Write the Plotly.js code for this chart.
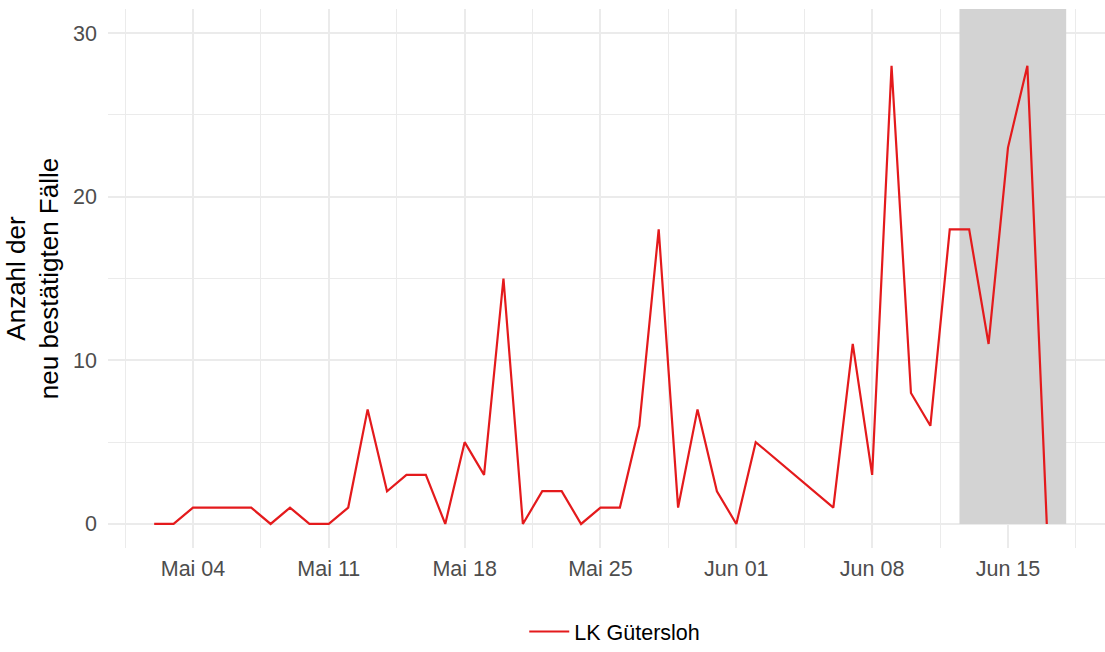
<!DOCTYPE html>
<html>
<head>
<meta charset="utf-8">
<script src="https://cdn.plot.ly/plotly-3.0.1.min.js"></script>
<style>html,body{margin:0;padding:0;background:#fff;}#chart{width:1105px;height:652px;}</style>
</head>
<body>
<div id="chart"></div>
<script>
// Data
const dates = [
  '2020-05-02','2020-05-03','2020-05-04','2020-05-05','2020-05-06','2020-05-07','2020-05-08',
  '2020-05-09','2020-05-10','2020-05-11','2020-05-12','2020-05-13','2020-05-14','2020-05-15',
  '2020-05-16','2020-05-17','2020-05-18','2020-05-19','2020-05-20','2020-05-21','2020-05-22',
  '2020-05-23','2020-05-24','2020-05-25','2020-05-26','2020-05-27','2020-05-28','2020-05-29',
  '2020-05-30','2020-05-31','2020-06-01','2020-06-02','2020-06-06','2020-06-07','2020-06-08',
  '2020-06-09','2020-06-10','2020-06-11','2020-06-12','2020-06-13','2020-06-14','2020-06-15',
  '2020-06-16','2020-06-17'
];
const cases = [
  0,0,1,1,1,1,0,
  1,0,0,1,7,2,3,
  3,0,5,3,15,0,2,
  2,0,1,1,6,18,1,
  7,2,0,5,1,11,3,
  28,8,6,18,18,11,23,
  28,0
];
const seriesName = 'LK Gütersloh';
const tickDates = ['2020-05-04','2020-05-11','2020-05-18','2020-05-25','2020-06-01','2020-06-08','2020-06-15'];
const tickLabels = ['Mai 04','Mai 11','Mai 18','Mai 25','Jun 01','Jun 08','Jun 15'];
const highlightStart = '2020-06-12 12:00';
const highlightEnd = '2020-06-18 00:00';
const yTitle = 'Anzahl der<br>neu bestätigten Fälle';

const FONT = 'Liberation Sans, Arial, sans-serif';

const trace = {
  x: dates, y: cases, type: 'scatter', mode: 'lines', name: seriesName,
  line: {color: '#E41A1C', width: 2.2}
};

const layout = {
  width: 1105, height: 652,
  margin: {l: 108, r: 0, t: 9, b: 104, autoexpand: false},
  paper_bgcolor: '#ffffff', plot_bgcolor: '#ffffff',
  font: {family: FONT, color: '#000'},
  showlegend: true,
  legend: {
    orientation: 'h', x: 0.4175, xanchor: 'left', yref: 'container', y: -0.007, yanchor: 'bottom',
    itemwidth: 40,
    font: {size: 21.5, color: '#000', family: FONT}
  },
  xaxis: {
    type: 'date',
    range: ['2020-04-29 14:53', '2020-06-20 00:00'],
    tickmode: 'array', tickvals: tickDates, ticktext: tickLabels,
    ticks: '', ticklabelstandoff: 5,
    tickfont: {size: 21.5, color: '#4D4D4D', family: FONT},
    showgrid: true, gridcolor: '#EBEBEB', gridwidth: 2,
    zeroline: false, showline: false,
    minor: {tick0: '2020-04-30 12:00', dtick: 604800000, showgrid: true, gridcolor: '#EBEBEB', gridwidth: 1, ticks: ''}
  },
  yaxis: {
    range: [-1.47, 31.47],
    tickmode: 'linear', tick0: 0, dtick: 10,
    ticks: '', ticklabelstandoff: 10,
    tickfont: {size: 21.5, color: '#4D4D4D', family: FONT},
    showgrid: true, gridcolor: '#EBEBEB', gridwidth: 2,
    zeroline: false, showline: false,
    minor: {tick0: 5, dtick: 10, showgrid: true, gridcolor: '#EBEBEB', gridwidth: 1, ticks: ''},
    title: {text: yTitle, font: {size: 26, color: '#000', family: FONT}, standoff: 6}
  },
  shapes: [{
    type: 'rect', xref: 'x', yref: 'y', layer: 'between',
    x0: highlightStart, x1: highlightEnd, y0: 0, y1: 31.47,
    fillcolor: '#D3D3D3', line: {width: 0}
  }]
};

Plotly.newPlot('chart', [trace], layout, {displayModeBar: false, staticPlot: true});
</script>
</body>
</html>
